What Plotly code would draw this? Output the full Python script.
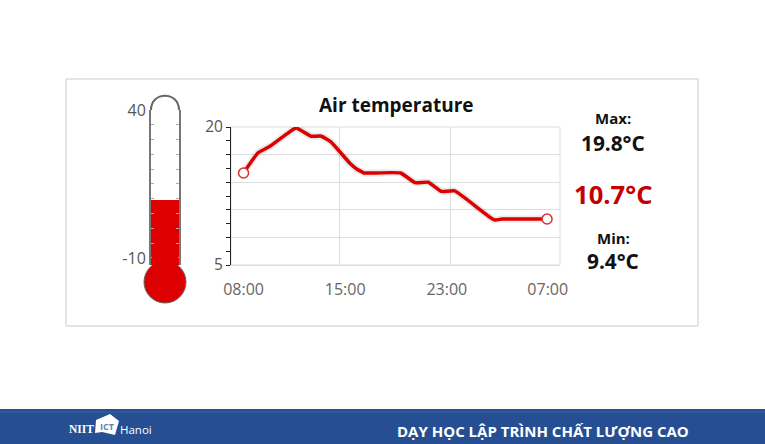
import plotly.graph_objects as go

# readings, hours since 08:00
hours = [0, 1.1, 2.0, 3.0, 3.98, 5.1, 5.9, 6.6, 7.3, 8.1, 8.6, 9.0, 9.1, 11.9, 13.0, 14.0, 15.0, 16.0, 19.0, 19.6, 23.0]
temps = [15.0, 17.2, 17.9, 18.95, 19.9, 19.0, 19.0, 18.4, 17.3, 16.0, 15.4, 15.1, 15.0, 15.0, 13.95, 14.0, 13.0, 13.05, 9.9, 10.0, 10.0]

time_ticks = [0, 7.7, 15.4, 23.05]
time_labels = ['08:00', '15:00', '23:00', '07:00']
time_grid = [7.3, 15.72]

temp_ticks = [5, 6.5, 8, 9.5, 11, 12.5, 14, 15.5, 17, 18.5, 20]
temp_labels = ['5', '', '', '', '', '', '', '', '', '', '20']
temp_grid = [8, 11, 14, 17]

thermo_ticks = [-10, -5, 0, 5, 10, 15, 20, 25, 30, 35, 40]
thermo_labels = ['-10', '', '', '', '', '', '', '', '', '', '40']
thermo_level = [9.6]

W = 765
H = 444
FONT = 'Open Sans'
RED = '#dd0000'
BLUE = '#254f92'


def px(x):
    return x / W


def py(y):
    return 1 - y / H


def label(x, y, text, size, color='#111111', bold=True, xanchor='center', family=FONT):
    if bold:
        text = f'<b>{text}</b>'
    return dict(xref='paper', yref='paper', x=px(x), y=py(y), text=text, showarrow=False,
                xanchor=xanchor, yanchor='middle', font=dict(family=family, size=size, color=color))


fig = go.Figure()

# thermometer column
fig.add_trace(go.Bar(x=[0.5], y=[thermo_level[0] + 13], base=[-13], width=[1], marker=dict(color=RED, line=dict(width=0)),
                     xaxis='x2', yaxis='y2', showlegend=False))

# soft shadow under the line
fig.add_trace(go.Scatter(x=hours, y=temps, mode='lines', line=dict(color='rgba(0,0,0,0.09)', width=7, shape='spline', smoothing=0.4),
                         showlegend=False))
fig.add_trace(go.Scatter(x=hours, y=temps, mode='lines', line=dict(color=RED, width=3.5, shape='spline', smoothing=0.4),
                         showlegend=False))
fig.add_trace(go.Scatter(x=[hours[0], hours[-1]], y=[temps[0], temps[-1]], mode='markers',
                         marker=dict(size=10, color='white', line=dict(color='#d83030', width=1.5)), showlegend=False))

shapes = [
    # card frame
    dict(type='rect', xref='paper', yref='paper', x0=px(66), x1=px(698), y0=py(326), y1=py(79),
         line=dict(color='#cccccc', width=1), fillcolor='white', layer='below'),
    # plot border
    dict(type='rect', xref='x domain', yref='y domain', x0=0, x1=1, y0=0, y1=1,
         line=dict(color='#dddddd', width=1), layer='below'),
    # footer band
    dict(type='rect', xref='paper', yref='paper', x0=0, x1=1, y0=0, y1=py(409),
         line=dict(width=0), fillcolor=BLUE, layer='below'),
    dict(type='line', xref='paper', yref='paper', x0=0, x1=1, y0=py(412), y1=py(412),
         line=dict(color='#3a63a3', width=1), layer='below'),
    # thermometer cap and bulb
    dict(type='path', xref='paper', yref='paper', line=dict(color='#666666', width=2),
         path=f'M {px(151)} {py(110)} C {px(151)} {py(91)}, {px(179)} {py(91)}, {px(179)} {py(110)}'),
    dict(type='circle', xref='paper', yref='paper', x0=px(144), x1=px(186), y0=py(303), y1=py(261),
         line=dict(color='#666666', width=1), fillcolor=RED),
    dict(type='rect', xref='paper', yref='paper', x0=px(152), x1=px(178), y0=py(268), y1=py(256),
         line=dict(width=0), fillcolor=RED),
    # logo sheet
    dict(type='path', xref='paper', yref='paper', line=dict(width=0), fillcolor='white',
         path=f'M {px(96)} {py(420)} L {px(110)} {py(414)} L {px(119)} {py(421)} L {px(115)} {py(435)} L {px(102)} {py(432)} L {px(95)} {py(433)} Z'),
]

annotations = [
    label(396, 105, 'Air temperature', 19),
    label(613, 118, 'Max:', 15),
    label(613, 143, '19.8°C', 20.8),
    label(613, 194, '10.7°C', 25.6, color='#c40000'),
    label(613, 238, 'Min:', 15),
    label(613, 261, '9.4°C', 20.8),
    label(107, 426, 'ICT', 9, color='#5f84bd'),
    label(67, 429, 'NIIT', 11.5, color='white', xanchor='left', family='Liberation Serif'),
    label(118, 429, 'Hanoi', 11.5, color='white', bold=False, xanchor='left'),
    label(395, 431, 'DẠY HỌC LẬP TRÌNH CHẤT LƯỢNG CAO', 15, color='white', xanchor='left'),
]

fig.update_layout(
    width=W,
    height=H,
    margin=dict(l=0, r=0, t=0, b=0, autoexpand=False),
    paper_bgcolor='white',
    plot_bgcolor='rgba(0,0,0,0)',
    font=dict(family=FONT, color='#555555'),
    shapes=shapes,
    annotations=annotations,
    xaxis=dict(domain=[px(231), px(560)], range=[-0.95, 23.98], tickvals=time_ticks, ticktext=time_labels,
               showgrid=False, zeroline=False, showline=True, linecolor='#dddddd', linewidth=1, ticks='',
               ticklabelstandoff=10, tickfont=dict(size=16, color='#666666'),
               minor=dict(tickvals=time_grid, showgrid=True, gridcolor='#dddddd', gridwidth=1, ticks='')),
    yaxis=dict(domain=[py(265), py(127)], range=[5, 20], tickmode='array', tickvals=temp_ticks, ticktext=temp_labels,
               showgrid=False, zeroline=False, showline=True, linecolor='#222222', linewidth=1, ticks='outside',
               ticklen=4, tickcolor='#222222', tickfont=dict(size=15.5, color='#555555'),
               minor=dict(tickvals=temp_grid, showgrid=True, gridcolor='#dddddd', gridwidth=1, ticks='')),
    xaxis2=dict(domain=[px(151), px(179)], range=[0, 1], anchor='y2', showgrid=False, zeroline=False,
                showticklabels=False, ticks=''),
    yaxis2=dict(domain=[py(265), py(110)], range=[-12.4, 40], anchor='x2', tickmode='array', tickvals=thermo_ticks,
                ticktext=thermo_labels, showgrid=False, zeroline=False, showline=True, linecolor='#777777', linewidth=2,
                mirror='ticks', ticks='inside', ticklen=3, tickcolor='#aaaaaa', tickfont=dict(size=16, color='#555555')),
)

fig.write_html('out.html', post_script="document.body.style.margin='0';", config=dict(displayModeBar=False))
